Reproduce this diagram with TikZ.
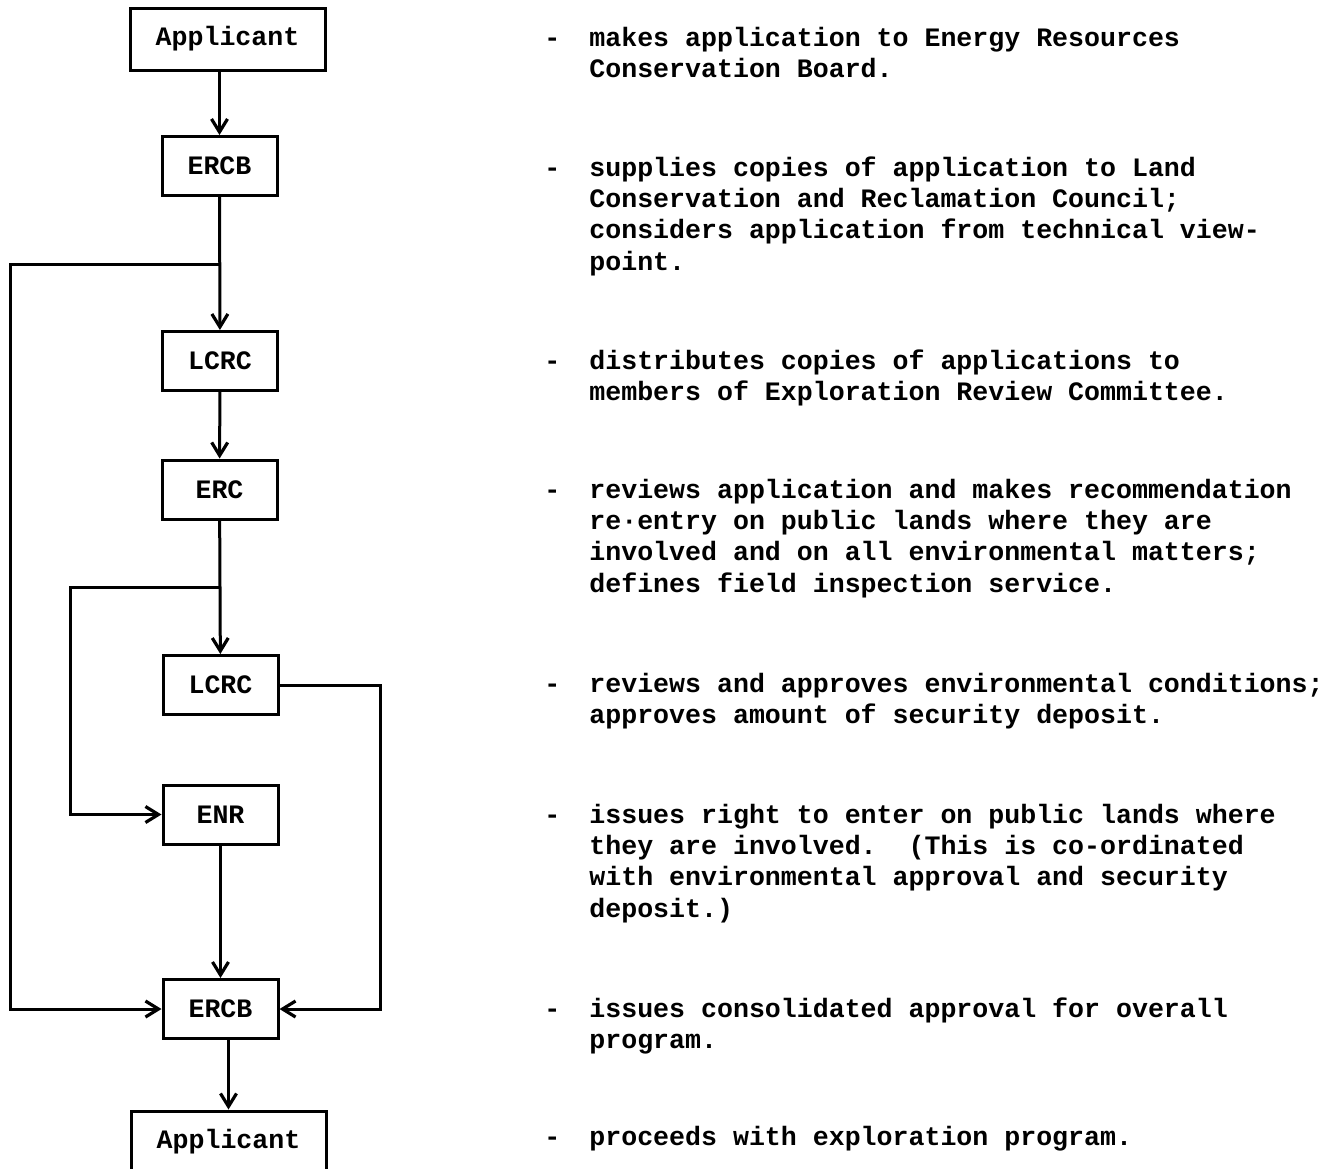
\documentclass[tikz,border=0pt]{standalone}
\usepackage{fontspec}
\setmonofont{Liberation Mono}
\usetikzlibrary{arrows.meta,positioning}
\newcommand{\tw}{\fontsize{13.3}{15.65}\selectfont\ttfamily\bfseries}
\tikzset{
  box/.style={draw,line width=1.5pt,minimum width=57.5pt,minimum height=29.5pt,inner sep=0pt,font=\tw},
  widebox/.style={box,minimum width=97.5pt,minimum height=31pt},
  flow/.style={line width=1.5pt,-{Straight Barb[length=6.5pt,width=8pt,line width=1.6pt]}},
  desc/.style={anchor=north west,inner sep=0pt,align=left,font=\tw},
}
\begin{document}
\begin{tikzpicture}[x=0.5pt,y=-0.5pt]
        \useasboundingbox (0,0) rectangle (1338,1168);
        % boxes down the left
        \node[widebox] (app) at (227.5,39) {Applicant};
        \node[box] (ercb) at (219.5,166) {ERCB};
        \node[box] (lcrc) at (220,361) {LCRC};
        \node[box] (erc) at (219.5,489.5) {ERC};
        \node[box] (lcrcb) at (220.5,685) {LCRC};
        \node[box] (enr) at (220.5,814.5) {ENR};
        \node[box] (ercbb) at (220.5,1009) {ERCB};
        \node[widebox] (appb) at (228.5,1142) {Applicant};
        % junctions
        \coordinate (j1) at (ercb.south |- 0,264);
        \coordinate (j2) at (erc.south |- 0,587);
        % connectors
        \draw[flow] (app.south -| ercb.north) -- (ercb.north);
        \draw[flow] (ercb) -- (lcrc);
        \draw[flow] (lcrc) -- (erc);
        \draw[flow] (erc) -- (lcrcb);
        \draw[flow] (enr) -- (ercbb);
        \draw[flow] (ercbb.south -| appb.north) -- (appb.north);
        \draw[flow] (j1) -- (10,264) |- (ercbb.west);
        \draw[flow] (j2) -- (70,587) |- (enr.west);
        \draw[flow] (lcrcb.east) -- (380,685) |- (ercbb.east);
        % dashes
        \node[desc] (d1) at (544,24) {\strut-};
        \node[desc] (d2) at (544,154) {\strut-};
        \node[desc] (d3) at (544,347) {\strut-};
        \node[desc] (d4) at (544,476) {\strut-};
        \node[desc] (d5) at (544,670) {\strut-};
        \node[desc] (d6) at (544,801) {\strut-};
        \node[desc] (d7) at (544,995) {\strut-};
        \node[desc] (d8) at (544,1123) {\strut-};
        % descriptions
        \node[desc] (t1) at (589,24) {\strut makes application to Energy Resources\\Conservation Board.};
        \node[desc] (t2) at (589,154) {\strut supplies copies of application to Land\\Conservation and Reclamation Council;\\considers application from technical view-\\point.};
        \node[desc] (t3) at (589,347) {\strut distributes copies of applications to\\members of Exploration Review Committee.};
        \node[desc] (t4) at (589,476) {\strut reviews application and makes recommendation\\re·entry on public lands where they are\\involved and on all environmental matters;\\defines field inspection service.};
        \node[desc] (t5) at (589,670) {\strut reviews and approves environmental conditions;\\approves amount of security deposit.};
        \node[desc] (t6) at (589,801) {\strut issues right to enter on public lands where\\they are involved.~ (This is co-ordinated\\with environmental approval and security\\deposit.)};
        \node[desc] (t7) at (589,995) {\strut issues consolidated approval for overall\\program.};
        \node[desc] (t8) at (589,1123) {\strut proceeds with exploration program.};
\end{tikzpicture}
\end{document}
